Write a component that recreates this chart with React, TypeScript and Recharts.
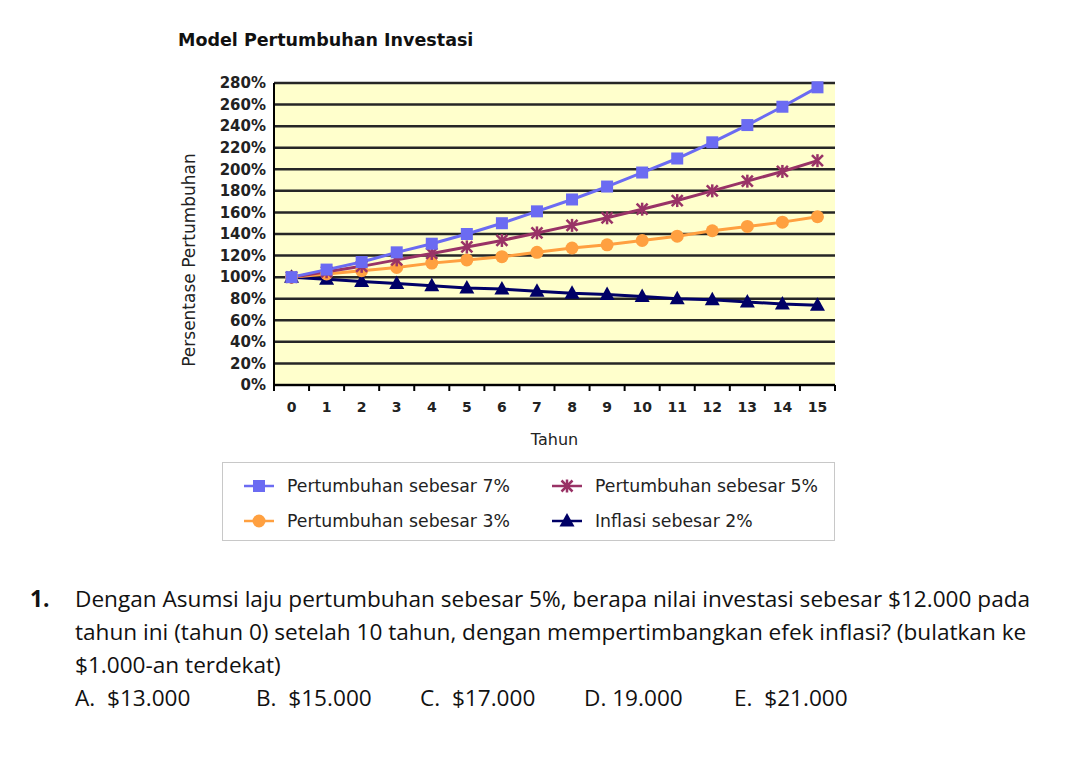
import React from 'react';
import { LineChart, Line, XAxis, YAxis, CartesianGrid } from 'recharts';

// years on the x axis
const years = [0, 1, 2, 3, 4, 5, 6, 7, 8, 9, 10, 11, 12, 13, 14, 15];

// values in percent
const growth7 = [100, 107, 114, 123, 131, 140, 150, 161, 172, 184, 197, 210, 225, 241, 258, 276];
const growth5 = [100, 105, 110, 116, 122, 128, 134, 141, 148, 155, 163, 171, 180, 189, 198, 208];
const growth3 = [100, 103, 106, 109, 113, 116, 119, 123, 127, 130, 134, 138, 143, 147, 151, 156];
const inflation2 = [100, 98, 96, 94, 92, 90, 89, 87, 85, 84, 82, 80, 79, 77, 75, 74];

const yTicks = [0, 20, 40, 60, 80, 100, 120, 140, 160, 180, 200, 220, 240, 260, 280];

const seriesNames = [
  'Pertumbuhan sebesar 7%',
  'Pertumbuhan sebesar 5%',
  'Pertumbuhan sebesar 3%',
  'Inflasi sebesar 2%',
];

const options = ['A.  $13.000', 'B.  $15.000', 'C.  $17.000', 'D. 19.000', 'E.  $21.000'];

const data = years.map((y, i) => ({
  year: y,
  g7: growth7[i],
  g5: growth5[i],
  g3: growth3[i],
  inf: inflation2[i],
}));

const FONT = '"DejaVu Sans", Verdana, sans-serif';
const TEXT_FONT = '"Open Sans", sans-serif';
const CHART_W = 900;
const CHART_H = 460;
const MARGIN = { top: 83, right: 65, bottom: 15, left: 184 };
const Y_AXIS_W = 90;
const X_AXIS_H = 60;
const PLOT_LEFT = MARGIN.left + Y_AXIS_W;
const PLOT_W = CHART_W - PLOT_LEFT - MARGIN.right;
const PLOT_BOTTOM = CHART_H - MARGIN.bottom - X_AXIS_H;
const STEP = PLOT_W / years.length;

type Shape = 'square' | 'star' | 'circle' | 'triangle';

function Marker({ shape, cx, cy, color }: { shape: Shape; cx: number; cy: number; color: string }) {
  if (shape === 'square') {
    return <rect x={cx - 6} y={cy - 6} width={12} height={12} fill={color} />;
  }
  if (shape === 'circle') {
    return <circle cx={cx} cy={cy} r={6.5} fill={color} />;
  }
  if (shape === 'triangle') {
    return <polygon points={`${cx},${cy - 8} ${cx + 7.5},${cy + 5.5} ${cx - 7.5},${cy + 5.5}`} fill={color} />;
  }
  return (
    <g stroke={color} strokeWidth={2.5}>
      <line x1={cx - 5.5} y1={cy - 5.5} x2={cx + 5.5} y2={cy + 5.5} />
      <line x1={cx - 5.5} y1={cy + 5.5} x2={cx + 5.5} y2={cy - 5.5} />
      <line x1={cx} y1={cy - 6.5} x2={cx} y2={cy + 6.5} />
    </g>
  );
}

const series: { key: string; name: string; color: string; shape: Shape }[] = [
  { key: 'g7', name: seriesNames[0], color: '#6b6bf2', shape: 'square' },
  { key: 'g5', name: seriesNames[1], color: '#993366', shape: 'star' },
  { key: 'g3', name: seriesNames[2], color: '#ffa040', shape: 'circle' },
  { key: 'inf', name: seriesNames[3], color: '#000066', shape: 'triangle' },
];

// draw order in the picture: inflation under, 7% on top
const drawOrder = [series[3], series[2], series[1], series[0]];

function XTick(props: any) {
  const { x, y, payload, index } = props;
  const isLast = index === years.length - 1;
  return (
    <g>
      <line x1={x - STEP / 2} x2={x - STEP / 2} y1={PLOT_BOTTOM} y2={PLOT_BOTTOM + 6} stroke="#000" strokeWidth={2} />
      {isLast && (
        <line x1={x + STEP / 2} x2={x + STEP / 2} y1={PLOT_BOTTOM} y2={PLOT_BOTTOM + 6} stroke="#000" strokeWidth={2} />
      )}
      <text x={x} y={y} dy="0.71em" textAnchor="middle" fontFamily={FONT} fontSize={14} fontWeight="bold" fill="#222">
        {payload.value}
      </text>
    </g>
  );
}

function Legendbox() {
  const cols = [243, 551];
  const rows = [485, 520];
  return (
    <div
      style={{
        position: 'absolute',
        left: 222,
        top: 462,
        width: 611,
        height: 77,
        border: '1px solid #c8c8c8',
        background: '#fff',
      }}
    >
      {series.map((s, i) => {
        const left = cols[i % 2] - 222;
        const top = rows[Math.floor(i / 2)] - 462;
        return (
          <div key={s.key} style={{ position: 'absolute', left, top: top - 12, height: 24, display: 'flex', alignItems: 'center' }}>
            <svg width={30} height={24} style={{ display: 'block' }}>
              <line x1={0} x2={30} y1={12} y2={12} stroke={s.color} strokeWidth={2.5} />
              <Marker shape={s.shape} cx={15} cy={12} color={s.color} />
            </svg>
            <span style={{ marginLeft: 13, fontFamily: FONT, fontSize: 17.3, color: '#222', whiteSpace: 'nowrap' }}>{s.name}</span>
          </div>
        );
      })}
    </div>
  );
}

const textStyle: React.CSSProperties = {
  position: 'absolute',
  fontFamily: TEXT_FONT,
  fontSize: 22.6,
  lineHeight: '33px',
  color: '#111',
  whiteSpace: 'pre',
};

export default function App() {
  return (
    <div style={{ position: 'absolute', left: 0, top: 0, width: 1080, height: 761, background: '#fff', overflow: 'hidden' }}>
      <div
        style={{
          position: 'absolute',
          left: 178,
          top: 30,
          fontFamily: FONT,
          fontWeight: 'bold',
          fontSize: 17.5,
          color: '#111',
          whiteSpace: 'nowrap',
        }}
      >
        Model Pertumbuhan Investasi
      </div>
      <div style={{ position: 'absolute', left: 0, top: 0 }}>
        <LineChart width={CHART_W} height={CHART_H} data={data} margin={MARGIN}>
          <CartesianGrid vertical={false} stroke="#262626" strokeWidth={2.5} fill="#ffffcc" fillOpacity={1} />
          <XAxis
            dataKey="year"
            type="number"
            domain={[-0.5, 15.5]}
            ticks={years}
            interval={0}
            height={X_AXIS_H}
            tickLine={false}
            tickSize={6}
            tickMargin={11}
            tick={<XTick />}
            axisLine={{ stroke: '#000', strokeWidth: 2 }}
            label={{ value: 'Tahun', position: 'insideBottom', offset: 0, fontFamily: FONT, fontSize: 16, fill: '#222' }}
          />
          <YAxis
            type="number"
            domain={[0, 280]}
            ticks={yTicks}
            interval={0}
            width={Y_AXIS_W}
            tickLine={false}
            tickSize={0}
            tickMargin={8}
            axisLine={{ stroke: '#000', strokeWidth: 2 }}
            tickFormatter={(v: number) => `${v}%`}
            tick={{ fontFamily: FONT, fontSize: 15, fontWeight: 'bold', fill: '#222' }}
            label={{
              content: () => (
                <text
                  x={189}
                  y={260}
                  transform="rotate(-90, 189, 260)"
                  textAnchor="middle"
                  dominantBaseline="central"
                  fontFamily={FONT}
                  fontSize={17}
                  fill="#222"
                >
                  Persentase Pertumbuhan
                </text>
              ),
            }}
          />
          {drawOrder.map((s) => (
            <Line
              key={s.key}
              dataKey={s.key}
              name={s.name}
              type="linear"
              stroke={s.color}
              strokeWidth={3}
              isAnimationActive={false}
              dot={(p: any) => <Marker key={`${s.key}-${p.index}`} shape={s.shape} cx={p.cx} cy={p.cy} color={s.color} />}
              activeDot={false}
            />
          ))}
        </LineChart>
      </div>
      <Legendbox />
      <div style={{ ...textStyle, left: 30, top: 582, fontWeight: 'bold' }}>1.</div>
      <div style={{ ...textStyle, left: 75, top: 582 }}>
        <div>Dengan Asumsi laju pertumbuhan sebesar 5%, berapa nilai investasi sebesar $12.000 pada</div>
        <div>tahun ini (tahun 0) setelah 10 tahun, dengan mempertimbangkan efek inflasi? (bulatkan ke</div>
        <div>$1.000-an terdekat)</div>
      </div>
      {options.map((o, i) => (
        <div key={o} style={{ ...textStyle, left: [75, 256, 420, 584, 734][i], top: 681 }}>
          {o}
        </div>
      ))}
    </div>
  );
}
